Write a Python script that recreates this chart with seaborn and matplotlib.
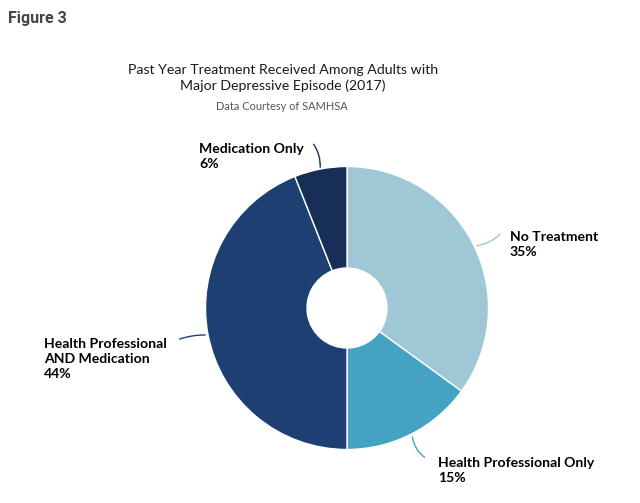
import matplotlib
matplotlib.use('Agg')
import matplotlib.pyplot as plt
import seaborn as sns

# data
categories = ['No Treatment', 'Health Professional Only',
              'Health Professional\nAND Medication', 'Medication Only']
shares = [35, 15, 44, 6]
colors = ['#9fc7d6', '#44a2c3', '#1d3f71', '#172f56']

sns.set_theme(style='white')
plt.rcParams['font.family'] = ['Lato', 'DejaVu Sans']

W, H = 640, 503
fig = plt.figure(figsize=(6.4, 5.03), dpi=100)
ax = fig.add_axes([0, 0, 1, 1])

def Y(y):
    # pixel row from top -> axes y
    return H - y

cx, cy, r, hole = 347, 308, 141.5, 40
ax.pie(shares, colors=colors, startangle=90, counterclock=False,
       center=(cx, Y(cy)), radius=r, frame=True,
       wedgeprops=dict(width=r - hole, edgecolor='white', linewidth=1))
ax.set_xlim(0, W)
ax.set_ylim(0, H)
ax.set_aspect('equal')
ax.axis('off')

fig.text(8 / W, 1 - 23 / H, 'Figure 3', fontsize=11.5, fontweight='bold',
         color='#444444', family='Roboto')
ax.text(283, Y(74), 'Past Year Treatment Received Among Adults with',
        ha='center', va='baseline', fontsize=10.2, color='#1a1a1a')
ax.text(283, Y(90), 'Major Depressive Episode (2017)',
        ha='center', va='baseline', fontsize=10.2, color='#1a1a1a')
ax.text(282, Y(110), 'Data Courtesy of SAMHSA',
        ha='center', va='baseline', fontsize=7.9, color='#555555')

# labels with curved connectors: text x, last-line baseline, line start, line end, bend
label_spots = [
    (510, 256, (502, 232), (474, 246), -0.2),
    (438, 482, (427, 459), (412, 434), -0.25),
    (44, 378, (177, 340), (208, 335), -0.1),
    (199, 168, (312, 142), (320, 170), -0.2),
]
for cat, val, col, (tx, ty, p0, p1, rad) in zip(categories, shares, colors, label_spots):
    ax.text(tx, Y(ty), f'{cat}\n{val}%', ha='left', va='baseline',
            fontsize=10.1, fontweight='bold', color='black', linespacing=1.3)
    ax.annotate('', xy=(p1[0], Y(p1[1])), xytext=(p0[0], Y(p0[1])),
                arrowprops=dict(arrowstyle='-', color=col, lw=1,
                                connectionstyle=f'arc3,rad={rad}'))

fig.savefig('out.png', dpi=100)
